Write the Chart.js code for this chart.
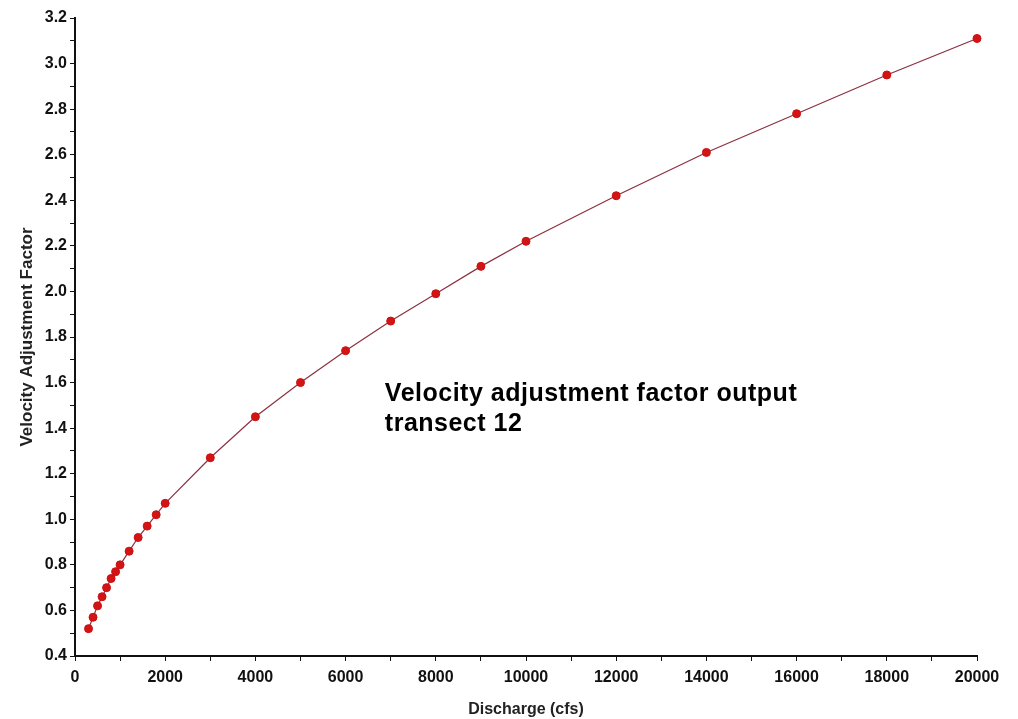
<!DOCTYPE html>
<html>
<head>
<meta charset="utf-8">
<script src="https://cdn.jsdelivr.net/npm/chart.js@4/dist/chart.umd.min.js"></script>
<style>
  html, body { margin: 0; padding: 0; background: #fff; }
  #wrap { width: 1018px; height: 719px; }
</style>
</head>
<body>
<div id="wrap"><canvas id="vafChart"></canvas></div>
<script>
// Discharge (cfs) and velocity adjustment factor
const discharge = [300, 400, 500, 600, 700, 800, 900, 1000, 1200, 1400, 1600, 1800, 2000,
  3000, 4000, 5000, 6000, 7000, 8000, 9000, 10000, 12000, 14000, 16000, 18000, 20000];
const factor = [0.52, 0.57, 0.62, 0.66, 0.70, 0.74, 0.77, 0.80, 0.86, 0.92, 0.97, 1.02, 1.07,
  1.27, 1.45, 1.60, 1.74, 1.87, 1.99, 2.11, 2.22, 2.42, 2.61, 2.78, 2.95, 3.11];

const noteLines = ['Velocity adjustment factor output', 'transect 12'];
const notePos = { x: 6870, y: 1.52 };

const font = 'Arial, "Liberation Sans", sans-serif';

// draws the text note inside the plot
const notePlugin = {
  id: 'note',
  afterDatasetsDraw(chart) {
    const c = chart.ctx;
    const px = chart.scales.x.getPixelForValue(notePos.x);
    const py = chart.scales.y.getPixelForValue(notePos.y);
    c.save();
    c.fillStyle = '#000';
    c.font = 'bold 25px ' + font;
    c.letterSpacing = '0.5px';
    c.textBaseline = 'alphabetic';
    noteLines.forEach((t, i) => c.fillText(t, px, py + i * 30));
    c.restore();
  }
};

const ctx = document.getElementById('vafChart').getContext('2d');
const vafChart = new Chart(ctx, {
  type: 'scatter',
  data: {
    datasets: [{
      label: 'Velocity Adjustment Factor',
      data: discharge.map((q, i) => ({ x: q, y: factor[i] })),
      showLine: true,
      clip: false,
      borderColor: '#8c3040',
      borderWidth: 1.2,
      pointBackgroundColor: '#d41414',
      pointBorderColor: '#c81010',
      pointRadius: 4,
      pointBorderWidth: 1
    }]
  },
  options: {
    responsive: true,
    maintainAspectRatio: false,
    animation: false,
    layout: { padding: { top: 18, right: 41, left: 0, bottom: 0 } },
    plugins: { legend: { display: false }, tooltip: { enabled: false } },
    scales: {
      x: {
        type: 'linear',
        min: 0, max: 20000,
        border: { display: true, color: '#111', width: 2 },
        grid: { display: true, drawOnChartArea: false, drawTicks: true, tickLength: 5, color: '#111' },
        ticks: {
          stepSize: 1000,
          autoSkip: false,
          minRotation: 0,
          maxRotation: 0,
          padding: 7,
          color: '#111',
          font: { family: font, size: 16, weight: 'bold' },
          callback: v => (v % 2000 === 0 ? String(v) : '')
        },
        title: {
          display: true,
          text: 'Discharge (cfs)',
          color: '#222',
          font: { family: font, size: 16, weight: 'bold' },
          padding: { top: 0, bottom: 0 }
        },
        afterFit: s => { s.height = 63; }
      },
      y: {
        type: 'linear',
        min: 0.4, max: 3.2,
        border: { display: true, color: '#111', width: 2 },
        grid: { display: true, drawOnChartArea: false, drawTicks: true, tickLength: 5, color: '#111' },
        ticks: {
          stepSize: 0.1,
          autoSkip: false,
          padding: 3,
          color: '#111',
          font: { family: font, size: 16, weight: 'bold' },
          callback: v => {
            const n = Math.round(v * 10);
            return n % 2 === 0 ? (n / 10).toFixed(1) : '';
          }
        },
        title: {
          display: true,
          text: 'Velocity Adjustment Factor',
          color: '#222',
          font: { family: font, size: 17, weight: 'bold' },
          padding: { top: 17, bottom: 0 }
        },
        afterFit: s => { s.width = 75; }
      }
    }
  },
  plugins: [notePlugin]
});
</script>
</body>
</html>
